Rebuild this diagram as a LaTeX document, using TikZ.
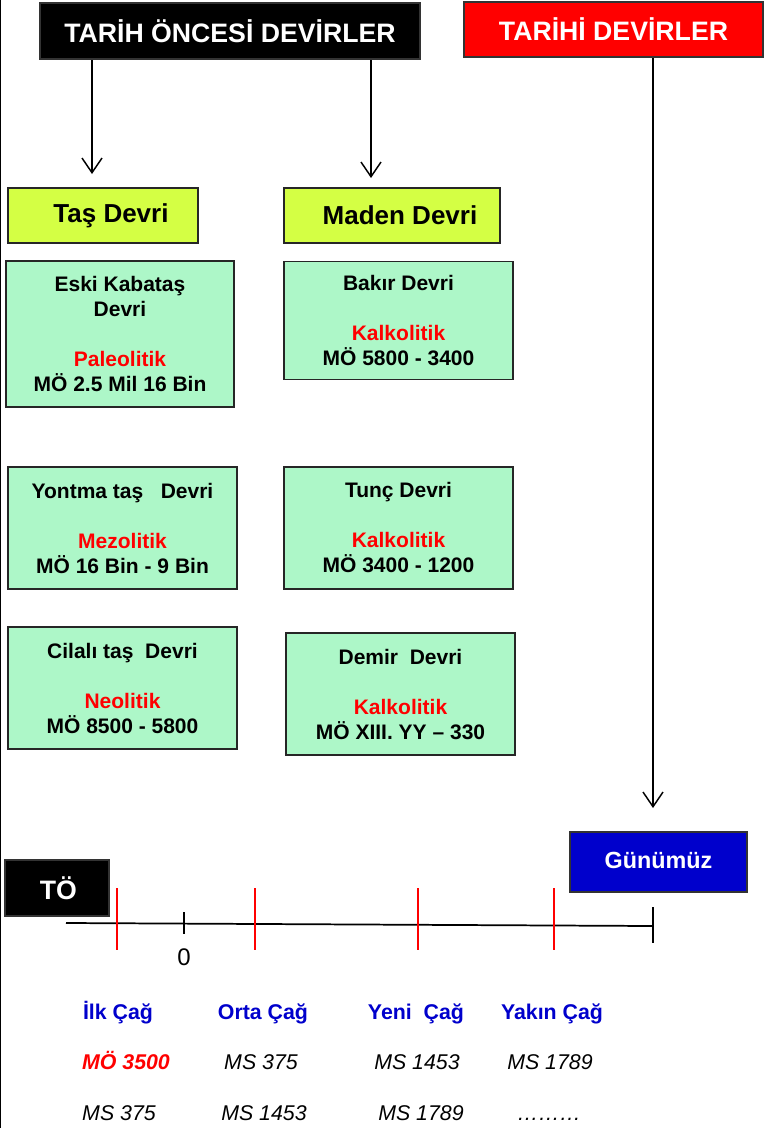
\documentclass[tikz,border=0pt]{standalone}
\usepackage{fontspec}
\setmainfont{Liberation Sans}
\usetikzlibrary{positioning,calc,arrows.meta}

\definecolor{devyellow}{HTML}{D4FF44}
\definecolor{devgreen}{HTML}{ADF7C8}
\definecolor{devblue}{HTML}{0000CC}

\tikzset{
  header/.style={draw=black!80, line width=1.5pt, text=white,
    font=\fontsize{20}{22}\selectfont\bfseries, inner sep=0pt},
  group/.style={draw=black!85, line width=1.3pt, fill=devyellow,
    font=\fontsize{19.5}{22}\selectfont\bfseries, inner sep=0pt,
    minimum height=41.25pt},
  period/.style={draw=black!85, line width=1.3pt, fill=devgreen, align=center,
    font=\fontsize{15.75}{18.75}\selectfont\bfseries, inner sep=0pt,
    minimum width=171.75pt, minimum height=91.5pt},
  arr/.style={line width=1.1pt, -{Straight Barb[length=11pt,width=15pt]}},
  era/.style={text=devblue, font=\fontsize{16}{19}\selectfont\bfseries,
    text height=12pt, text depth=4pt},
  date/.style={font=\fontsize{16}{19}\selectfont\itshape,
    text height=12pt, text depth=4pt}
}

\begin{document}
\begin{tikzpicture}[x=0.75pt, y=-0.75pt]
  \useasboundingbox (0,0) rectangle (764,1128);
  \draw[line width=1pt] (0.5,0) -- (0.5,1128);

  % headers
  \node[header, fill=black, minimum width=285pt, minimum height=42pt] (oncesi) at (230,31) {TARİH ÖNCESİ DEVİRLER};
  \node[header, fill=red, minimum width=224pt, minimum height=41.25pt] (tarihi) at (613.5,29.5) {TARİHİ DEVİRLER};

  % groups
  \node[group, minimum width=142.5pt] (tas) at (103,215.5) {\hspace*{12pt}Taş Devri};
  \node[group, minimum width=162pt] (maden) at (392,215.5) {\hspace*{12pt}Maden Devri};

  % periods
  \node[period, minimum width=171pt, minimum height=109.5pt] (eski) at (120,334)
    {Eski Kabataş\\Devri\\[18.75pt]\textcolor{red}{Paleolitik}\\MÖ 2.5 Mil 16 Bin};
  \node[period, minimum height=88.5pt] (bakir) at (398.5,320.5)
    {Bakır Devri\\[18.75pt]\textcolor{red}{Kalkolitik}\\MÖ 5800 - 3400};
  \node[period] (yontma) at (122.5,528)
    {Yontma taş\ \ \ Devri\\[18.75pt]\textcolor{red}{Mezolitik}\\MÖ 16 Bin - 9 Bin};
  \node[period] (tunc) at (398.5,528)
    {Tunç Devri\\[18.75pt]\textcolor{red}{Kalkolitik}\\MÖ 3400 - 1200};
  \node[period] (cilali) at (122.5,688)
    {Cilalı taş\ \ Devri\\[18.75pt]\textcolor{red}{Neolitik}\\MÖ 8500 - 5800};
  \node[period] (demir) at (400.5,694)
    {Demir\ \ Devri\\[18.75pt]\textcolor{red}{Kalkolitik}\\MÖ XIII. YY – 330};

  % arrows
  \coordinate (a1) at (92,174);
  \coordinate (a2) at (371,178);
  \coordinate (a3) at (653,808);
  \draw[arr] (oncesi.south -| a1) -- (a1);
  \draw[arr] (oncesi.south -| a2) -- (a2);
  \draw[arr] (tarihi.south -| a3) -- (a3);

  % time line
  \node[header, fill=black, minimum width=78pt, minimum height=42pt] (to) at (57,888) {\hspace*{2pt}TÖ};
  \node[header, fill=devblue, minimum width=132.75pt, minimum height=45pt,
    font=\fontsize{17.5}{19}\selectfont\bfseries] (gunumuz) at (658.5,862) {\raisebox{2pt}{Günümüz}};
  \coordinate (tstart) at (66,923);
  \coordinate (tend) at (653,926);
  \draw[line width=1.3pt] (tstart) -- (tend);
  \draw[line width=1.1pt] ($(tend)+(0,-19)$) -- ($(tend)+(0,17)$);
  \draw[line width=0.9pt] (184,912) -- (184,934);
  \node[font=\fontsize{18}{20}\selectfont] (zero) at (184,957) {0};
  \foreach \x in {117,255,418,554}
    \draw[red, line width=1pt] (\x,888) -- (\x,950);

  % ages
  \foreach \x/\name in {118/İlk Çağ, 263/Orta Çağ, 416/Yeni\ \ Çağ, 552/Yakın Çağ}
    \node[era] at (\x,1014) {\name};
  \node[date, text=red, font=\fontsize{16}{19}\selectfont\bfseries\itshape] (ilkbas) at (126,1064) {MÖ 3500};
  \foreach \x/\d in {261/MS 375, 417/MS 1453, 550/MS 1789}
    \node[date] at (\x,1064) {\d};
  \foreach \x/\d in {119/MS 375, 264/MS 1453, 421/MS 1789, 549/………}
    \node[date] at (\x,1115) {\d};
\end{tikzpicture}
\end{document}
